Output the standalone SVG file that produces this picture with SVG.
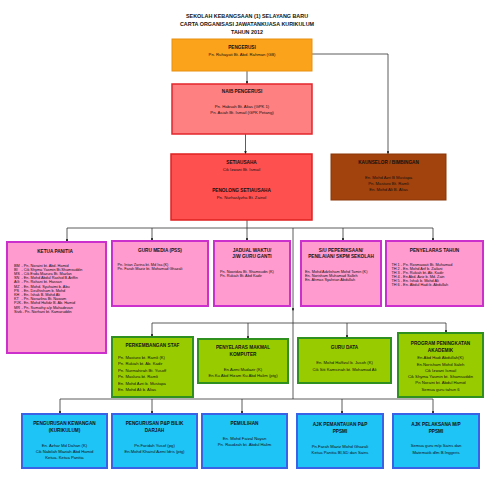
<svg xmlns="http://www.w3.org/2000/svg" width="495" height="495" viewBox="0 0 495 495">
<defs>
<marker id="arr" viewBox="0 0 6 6" refX="6" refY="3" markerWidth="3.5" markerHeight="3.5" orient="auto"><path d="M0,0 L6,3 L0,6 z" fill="#111"/></marker>
<style>
text{font-family:"Liberation Sans",Arial,sans-serif;fill:#111}
.t{font-size:5.4px;font-weight:bold;text-anchor:middle}
.h{font-size:4.7px;font-weight:bold;text-anchor:middle}
.b{font-size:4.2px}
.c{text-anchor:middle}
.s{font-size:3.8px}
.or{fill:#FBA31A;stroke:#E89010;stroke-width:1}
.nb{fill:#FF8080;stroke:#E3262B;stroke-width:1.5}
.se{fill:#FF5050;stroke:#DF2020;stroke-width:1.5}
.kb{fill:#A2420D;stroke:#8A3608;stroke-width:1}
.pk{fill:#FF9BCE;stroke:#CC30CC;stroke-width:2}
.gr{fill:#99CC00;stroke:#2F8F1F;stroke-width:2}
.cy{fill:#1FC4F6;stroke:#3A62E6;stroke-width:2}
.ln{fill:none;stroke:#333;stroke-width:0.8}
.la{fill:none;stroke:#333;stroke-width:0.8;marker-end:url(#arr)}
</style>
</defs>
<rect width="495" height="495" fill="#fff"/>
<g id="title">
<text class="t" x="247" y="18">SEKOLAH KEBANGSAAN (1) SELAYANG BARU</text>
<text class="t" x="247" y="26">CARTA ORGANISASI JAWATANKUASA KURIKULUM</text>
<text class="t" x="247" y="33.7">TAHUN 2012</text>
</g>
<g id="connectors">
<path class="la" d="M247,71 V84"/>
<path class="la" d="M245.5,134 V154"/>
<path class="la" d="M312,54 H388 V154"/>
<path class="ln" d="M247,220 V228 M67,228 H433"/>
<path class="la" d="M67,228 V242"/>
<path class="la" d="M152,228 V241"/>
<path class="la" d="M247,228 V241"/>
<path class="la" d="M343,228 V241"/>
<path class="la" d="M433,228 V241"/>
<path class="la" d="M293,228 V311"/>
<path class="ln" d="M293,311 V399 M152,323 H446 M60,399 H433"/>
<path class="la" d="M152,323 V337"/>
<path class="la" d="M248,323 V339"/>
<path class="la" d="M347,323 V338"/>
<path class="la" d="M446,323 V333"/>
<path class="la" d="M60,399 V414"/>
<path class="la" d="M152,399 V414"/>
<path class="la" d="M242,399 V414"/>
<path class="la" d="M342,399 V414"/>
<path class="la" d="M433,399 V414"/>
</g>
<g id="pengerusi">
<rect class="or" x="172" y="39" width="140" height="32"/>
<text class="h" x="242" y="49.2">PENGERUSI</text>
<text class="b c" x="242" y="55.5">Pn. Ruhayati Bt. Abd. Rahman (GB)</text>
</g>
<g id="naib">
<rect class="nb" x="172" y="84" width="140" height="50"/>
<text class="h" x="242" y="93.2">NAIB PENGERUSI</text>
<text class="b c" x="242" y="107.5">Pn. Habsah Bt. Alias (GPK 1)</text>
<text class="b c" x="242" y="114.2">Pn. Asiah Bt. Ismail (GPK Petang)</text>
</g>
<g id="setiausaha">
<rect class="se" x="171" y="154" width="141" height="66"/>
<text class="h" x="241.5" y="164.2">SETIAUSAHA</text>
<text class="b c" x="241.5" y="170.8">Cik Izwani Bt. Ismail</text>
<text class="h" x="241.5" y="192.2">PENOLONG SETIAUSAHA</text>
<text class="b c" x="241.5" y="198.8">Pn. Nurhaslyzha Bt. Zainol</text>
</g>
<g id="kaunselor">
<rect class="kb" x="331" y="154" width="115" height="46"/>
<text class="h" x="388.5" y="163.8">KAUNSELOR / BIMBINGAN</text>
<text class="b c" x="388.5" y="178.5">En. Mohd Azri B Mustapa</text>
<text class="b c" x="388.5" y="184.8">Pn. Masturo Bt. Ramli</text>
<text class="b c" x="388.5" y="190.8">En. Mohd Ali B. Alias</text>
</g>
<g id="ketua-panitia">
<rect class="pk" x="7" y="242" width="99" height="111"/>
<text class="h" x="55" y="252.5">KETUA PANITIA</text>
<g class="s">
<text x="14" y="266.5">BM</text><text x="21.5" y="266.5">- Pn. Noraini bt. Abd. Hamid</text>
<text x="14" y="270.7">BI</text><text x="21.5" y="270.7">- Cik Shyma Yasmin Bt.Shamsuddin</text>
<text x="14" y="274.9">MS</text><text x="21.5" y="274.9">- Cik Esda Mazura Bt. Mazlan</text>
<text x="14" y="279.1">SN</text><text x="21.5" y="279.1">- En. Mohd Abdul Rashid B.Ariffin</text>
<text x="14" y="283.3">AG</text><text x="21.5" y="283.3">- Pn. Rohani bt. Hassan</text>
<text x="14" y="287.5">MZ</text><text x="21.5" y="287.5">- En. Mohd. Syuhaimi b. Abu</text>
<text x="14" y="291.7">PS</text><text x="21.5" y="291.7">- En. Dzulhisham b. Mohd</text>
<text x="14" y="295.9">KH</text><text x="21.5" y="295.9">- En. Ishak B. Mohd Ali</text>
<text x="14" y="300.1">KT</text><text x="21.5" y="300.1">- Pn. Norazlina Bt. Nawam</text>
<text x="14" y="304.3">PJK</text><text x="21.5" y="304.3">- En. Mohd Hafidz B. Ab. Hamid</text>
<text x="14" y="308.5">MR</text><text x="21.5" y="308.5">- Pn. Sumathy a/p Mahadevan</text>
<text x="14" y="312.7">Sivik</text><text x="22.5" y="312.7">- Pn. Norhani bt. Kamaruddin</text>
</g>
</g>
<g id="guru-media">
<rect class="pk" x="112" y="241" width="96" height="65"/>
<text class="h" x="160" y="251.5">GURU MEDIA (PSS)</text>
<text class="s" x="117.5" y="265.8">Pn. Intan Zarina bt. Md Isa (K)</text>
<text class="s" x="117.5" y="269.8">Pn. Farah Maziz bt. Mohamad Ghazali</text>
</g>
<g id="jadual-waktu">
<rect class="pk" x="214" y="241" width="76" height="65"/>
<text class="h" x="252" y="251.5">JADUAL WAKTU/</text>
<text class="h" x="252" y="258.2">J/W GURU GANTI</text>
<text class="s" x="220" y="272.5">Pn. Nooridza Bt. Shamsudin (K)</text>
<text class="s" x="220" y="276.8">Pn. Rukiah Bt. Abd Kadir</text>
</g>
<g id="su-peperiksaan">
<rect class="pk" x="301" y="241" width="80" height="65"/>
<text class="h" x="341" y="251.5">S/U PEPERIKSAAN/</text>
<text class="h" x="341" y="258.2">PENILAIAN/ SKPM SEKOLAH</text>
<text class="s" x="305" y="272.5">En. Mohd Adzlisham Mohd Tamin (K)</text>
<text class="s" x="305" y="276.8">En. Norisham Muhamad Salleh</text>
<text class="s" x="305" y="281.2">En. Ahmas Syahrian Abdullah</text>
</g>
<g id="penyelaras-tahun">
<rect class="pk" x="386" y="241" width="97" height="65"/>
<text class="h" x="434.5" y="251.5">PENYELARAS TAHUN</text>
<text class="s" x="391.5" y="265.8">TH 1 - Pn. Rosmawati Bt. Muhamad</text>
<text class="s" x="391.5" y="269.9">TH 2 - En. Mohd Arif b. Zailani</text>
<text class="s" x="391.5" y="274">TH 3 - Pn. Rukiah bt. Ab. Kadir</text>
<text class="s" x="391.5" y="278.1">TH 4 - En Abd. Aziz b. Md. Zain</text>
<text class="s" x="391.5" y="282.2">TH 5 - En. Ishak b. Mohd Ali</text>
<text class="s" x="391.5" y="286.3">TH 6 - En. Abdul Hadi b. Abdullah</text>
</g>
<g id="perkembangan-staf">
<rect class="gr" x="112" y="337" width="81" height="60"/>
<text class="h" x="152.5" y="347.2">PERKEMBANGAN STAF</text>
<text class="b" x="118" y="358.8">Pn. Masturo bt. Ramli (K)</text>
<text class="b" x="118" y="365.3">Pn. Rukiah bt. Ab. Kadir</text>
<text class="b" x="118" y="371.8">Pn. Nurmahirah Bt. Yusoff</text>
<text class="b" x="118" y="378.3">Pn. Maslura bt. Ramli</text>
<text class="b" x="118" y="384.8">En. Mohd Azri b. Mustapa</text>
<text class="b" x="118" y="391.3">En. Mohd Ali b. Alias</text>
</g>
<g id="penyelaras-makmal">
<rect class="gr" x="198" y="339" width="90" height="44"/>
<text class="h" x="243" y="349.2">PENYELARAS MAKMAL</text>
<text class="h" x="243" y="355.8">KOMPUTER</text>
<text class="b c" x="243" y="370.5">En.Azmi Mudazir (K)</text>
<text class="b c" x="243" y="377.2">En.Ku Abd Hizam Ku Abd Halim (ptg)</text>
</g>
<g id="guru-data">
<rect class="gr" x="298" y="338" width="93" height="45"/>
<text class="h" x="344.5" y="349.2">GURU DATA</text>
<text class="b c" x="344.5" y="363.8">En. Mohd Haffizul b. Jusoh (K)</text>
<text class="b c" x="344.5" y="370.5">Cik Siti Kamsinah bt. Mohamad Ali</text>
</g>
<g id="program-akademik">
<rect class="gr" x="398" y="333" width="85" height="64"/>
<text class="h" x="440.5" y="344.8">PROGRAM PENINGKATAN</text>
<text class="h" x="440.5" y="351.8">AKADEMIK</text>
<text class="b c" x="440.5" y="359.2">En.Abd Hadi Abdullah(K)</text>
<text class="b c" x="440.5" y="365.5">En.Norisham Mohd Saleh</text>
<text class="b c" x="440.5" y="371.8">Cik Izwani Ismail</text>
<text class="b c" x="440.5" y="378.1">Cik Shyma Yasmin bt. Shamsuddin</text>
<text class="b c" x="440.5" y="384.4">Pn Noraini bt. Abdul Hamid</text>
<text class="b c" x="440.5" y="390.7">Semua guru tahun 6</text>
</g>
<g id="pengurusan-kewangan">
<rect class="cy" x="22" y="414" width="85" height="54"/>
<text class="h" x="64.5" y="424.8">PENGURUSAN KEWANGAN</text>
<text class="h" x="64.5" y="432.2">(KURIKULUM)</text>
<text class="b c" x="64.5" y="446.5">En. Azhar Md Dahan (K)</text>
<text class="b c" x="64.5" y="453">Cik Nabilah Maziah Abd Hamid</text>
<text class="b c" x="64.5" y="459.3">Ketua- Ketua Panitia</text>
</g>
<g id="pengurusan-pnp">
<rect class="cy" x="112" y="414" width="85" height="54"/>
<text class="h" x="154.5" y="424.8">PENGURUSAN P&amp;P BILIK</text>
<text class="h" x="154.5" y="432.2">DARJAH</text>
<text class="b c" x="154.5" y="446.5">Pn.Faridah Yusof (pg)</text>
<text class="b c" x="154.5" y="453.3">En.Mohd Khairul Azmi Idris (ptg)</text>
</g>
<g id="pemulihan">
<rect class="cy" x="202" y="414" width="85" height="54"/>
<text class="h" x="244.5" y="424.8">PEMULIHAN</text>
<text class="b c" x="244.5" y="439.8">En. Mohd Faizal Nayan</text>
<text class="b c" x="244.5" y="445.8">Pn. Raudzah bt. Abdul Halim</text>
</g>
<g id="ajk-pemantauan">
<rect class="cy" x="297" y="414" width="86" height="54"/>
<text class="h" x="340" y="425.8">AJK PEMANTAUAN P&amp;P</text>
<text class="h" x="340" y="432.5">PPSMI</text>
<text class="b c" x="340" y="447.5">Pn.Farah Maziz Mohd Ghazali</text>
<text class="b c" x="340" y="453.8">Ketua Panitia BI,SD dan Sains</text>
</g>
<g id="ajk-pelaksana">
<rect class="cy" x="393" y="414" width="86" height="54"/>
<text class="h" x="436" y="425.8">AJK PELAKSANA M/P</text>
<text class="h" x="436" y="432.5">PPSMI</text>
<text class="b c" x="436" y="447.2">Semua guru m/p Sains dan</text>
<text class="b c" x="436" y="453.5">Matematik dlm B.Inggeris</text>
</g>
</svg>
